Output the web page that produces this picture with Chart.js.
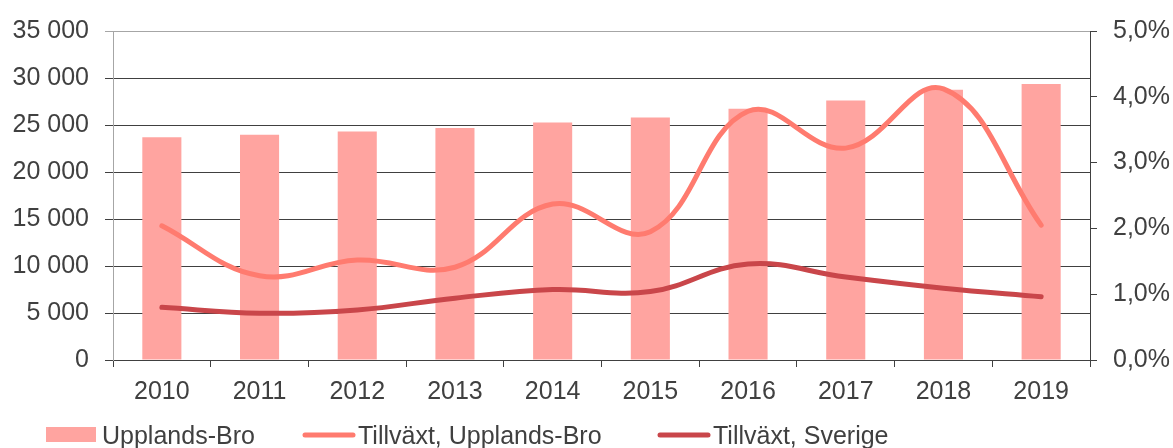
<!DOCTYPE html>
<html>
<head>
<meta charset="utf-8">
<script src="https://cdn.jsdelivr.net/npm/chart.js@4/dist/chart.umd.min.js"></script>
<style>
  html, body { margin: 0; padding: 0; background: #fff; }
  #wrap { width: 1173px; height: 448px; position: relative; }
</style>
</head>
<body>
<div id="wrap"><canvas id="chart"></canvas></div>
<script>
// data
const years = ['2010', '2011', '2012', '2013', '2014', '2015', '2016', '2017', '2018', '2019'];
const population = [23690, 23970, 24320, 24670, 25270, 25800, 26720, 27600, 28760, 29360];
const growthUpplandsBro = [2.04, 1.28, 1.52, 1.41, 2.37, 1.95, 3.78, 3.22, 4.12, 2.05];
const growthSverige = [0.80, 0.71, 0.76, 0.94, 1.07, 1.04, 1.46, 1.26, 1.09, 0.96];
const seriesNames = ['Upplands-Bro', 'Tillväxt, Upplands-Bro', 'Tillväxt, Sverige'];

const barColor = '#FFA4A0';
const lineColor1 = '#FF7B6F';
const lineColor2 = '#C9464A';
const textColor = '#404040';
const font = { family: 'Arial, "Liberation Sans", sans-serif', size: 25 };

// legend drawn by hand so the spacing matches the original
const bottomLegend = {
    id: 'bottomLegend',
    afterDraw(chart) {
        const ctx = chart.ctx;
        const starts = [46, 302, 657];
        const y = 435;
        ctx.save();
        ctx.font = font.size + 'px ' + font.family;
        ctx.textBaseline = 'alphabetic';
        chart.data.datasets.forEach((ds, i) => {
            const x = starts[i];
            if (ds.type === 'bar') {
                ctx.fillStyle = ds.backgroundColor;
                ctx.fillRect(x, y - 8, 50, 15);
            } else {
                ctx.strokeStyle = ds.borderColor;
                ctx.lineWidth = 5;
                ctx.lineCap = 'round';
                ctx.beginPath();
                ctx.moveTo(x + 3, y);
                ctx.lineTo(x + 51, y);
                ctx.stroke();
            }
            ctx.fillStyle = textColor;
            ctx.fillText(ds.label, x + 56, y + 9);
        });
        ctx.restore();
    }
};

new Chart(document.getElementById('chart'), {
    data: {
        labels: years,
        datasets: [
            {
                type: 'bar',
                label: seriesNames[0],
                data: population,
                yAxisID: 'y',
                backgroundColor: barColor,
                barPercentage: 0.4,
                categoryPercentage: 1,
                order: 3
            },
            {
                type: 'line',
                label: seriesNames[1],
                data: growthUpplandsBro,
                yAxisID: 'y1',
                borderColor: lineColor1,
                borderWidth: 5,
                borderCapStyle: 'round',
                tension: 0.4,
                pointRadius: 0,
                order: 1
            },
            {
                type: 'line',
                label: seriesNames[2],
                data: growthSverige,
                yAxisID: 'y1',
                borderColor: lineColor2,
                borderWidth: 5,
                borderCapStyle: 'round',
                tension: 0.4,
                pointRadius: 0,
                order: 2
            }
        ]
    },
    options: {
        responsive: true,
        maintainAspectRatio: false,
        animation: false,
        devicePixelRatio: 1,
        layout: { padding: { top: 29, bottom: 0 } },
        plugins: {
            legend: { display: false },
            tooltip: { enabled: false }
        },
        scales: {
            x: {
                grid: { drawOnChartArea: false, offset: true, tickLength: 7, color: textColor },
                border: { color: textColor },
                ticks: { color: textColor, font: font, padding: 10 },
                afterFit(scale) { scale.height = 88; }
            },
            y: {
                position: 'left',
                min: 0,
                max: 35000,
                ticks: {
                    stepSize: 5000,
                    color: textColor,
                    font: font,
                    padding: 16,
                    callback: v => v === 0 ? '0' : (v / 1000) + ' 000'
                },
                grid: {
                    tickLength: 8,
                    color: ctx => ctx.tick && ctx.tick.value === 35000 ? '#a6a6a6' : textColor
                },
                border: { color: '#a6a6a6' },
                afterFit(scale) { scale.width = 113; }
            },
            y1: {
                position: 'right',
                min: 0,
                max: 5,
                ticks: {
                    stepSize: 1,
                    color: textColor,
                    font: font,
                    padding: 16,
                    callback: v => v.toFixed(1).replace('.', ',') + '%'
                },
                grid: { drawOnChartArea: false, tickLength: 7, color: textColor },
                border: { color: textColor },
                afterFit(scale) { scale.width = 83; }
            }
        }
    },
    plugins: [bottomLegend]
});
</script>
</body>
</html>
